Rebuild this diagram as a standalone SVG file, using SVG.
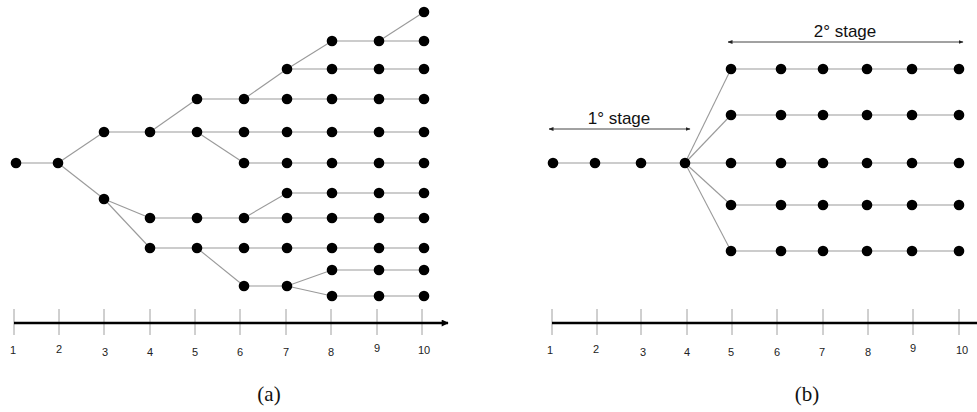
<svg xmlns="http://www.w3.org/2000/svg" width="977" height="412" viewBox="0 0 977 412">
<style>
.e{stroke:#9a9a9a;stroke-width:1.1;fill:none}
.n{fill:#000}
.t{stroke:#a0a0a0;stroke-width:1}
.ax{stroke:#000;stroke-width:2.6;fill:none}
.lb{font-family:"Liberation Sans",Arial,sans-serif;font-size:11px;fill:#222;text-anchor:middle}
.st{font-family:"Liberation Sans",Arial,sans-serif;font-size:17px;fill:#111;text-anchor:middle}
.cap{font-family:"Liberation Serif","Times New Roman",serif;font-size:21px;fill:#111;text-anchor:middle}
.sa{stroke:#444;stroke-width:1;fill:none;marker-start:url(#ah);marker-end:url(#ah)}
</style>
<defs>
<marker id="ah" viewBox="0 0 10 10" refX="9" refY="5" markerWidth="5" markerHeight="5" orient="auto-start-reverse" markerUnits="userSpaceOnUse"><path d="M0,1 L10,5 L0,9 Z" fill="#222"/></marker>
<marker id="axh" viewBox="0 0 10 10" refX="9" refY="5" markerWidth="8" markerHeight="7" orient="auto" markerUnits="userSpaceOnUse"><path d="M0,0 L10,5 L0,10 Z" fill="#000"/></marker>
</defs>

<g id="connectors">
<!-- left tree -->
<line class="e" x1="16" y1="163" x2="58" y2="163"/>
<line class="e" x1="58" y1="163" x2="104" y2="132"/>
<line class="e" x1="58" y1="163" x2="104" y2="199"/>
<line class="e" x1="104" y1="132" x2="150" y2="132"/>
<line class="e" x1="150" y1="132" x2="197" y2="99"/>
<line class="e" x1="150" y1="132" x2="424" y2="132"/>
<line class="e" x1="197" y1="99" x2="424" y2="99"/>
<line class="e" x1="244" y1="99" x2="287" y2="69"/>
<line class="e" x1="287" y1="69" x2="424" y2="69"/>
<line class="e" x1="287" y1="69" x2="332" y2="41"/>
<line class="e" x1="332" y1="41" x2="424" y2="41"/>
<line class="e" x1="379" y1="41" x2="424" y2="12"/>
<line class="e" x1="197" y1="132" x2="244" y2="163"/>
<line class="e" x1="244" y1="163" x2="424" y2="163"/>
<line class="e" x1="104" y1="199" x2="150" y2="218"/>
<line class="e" x1="104" y1="199" x2="150" y2="248"/>
<line class="e" x1="150" y1="218" x2="424" y2="218"/>
<line class="e" x1="244" y1="218" x2="287" y2="193"/>
<line class="e" x1="287" y1="193" x2="424" y2="193"/>
<line class="e" x1="150" y1="248" x2="424" y2="248"/>
<line class="e" x1="197" y1="248" x2="244" y2="286"/>
<line class="e" x1="244" y1="286" x2="287" y2="286"/>
<line class="e" x1="287" y1="286" x2="332" y2="270"/>
<line class="e" x1="287" y1="286" x2="332" y2="296"/>
<line class="e" x1="332" y1="270" x2="424" y2="270"/>
<line class="e" x1="332" y1="296" x2="424" y2="296"/>
<!-- right tree -->
<line class="e" x1="553" y1="163" x2="959" y2="163"/>
<line class="e" x1="685" y1="163" x2="731" y2="69"/>
<line class="e" x1="685" y1="163" x2="731" y2="115"/>
<line class="e" x1="685" y1="163" x2="731" y2="205"/>
<line class="e" x1="685" y1="163" x2="731" y2="251"/>
<line class="e" x1="731" y1="69" x2="959" y2="69"/>
<line class="e" x1="731" y1="115" x2="959" y2="115"/>
<line class="e" x1="731" y1="205" x2="959" y2="205"/>
<line class="e" x1="731" y1="251" x2="959" y2="251"/>
<!-- stage arrows -->
<line class="sa" x1="549" y1="129" x2="690" y2="129"/>
<line class="sa" x1="728" y1="42" x2="963" y2="42"/>
</g>

<g id="nodes-a">
<g id="a1-F"><circle class="n" cx="16" cy="163" r="5.3"/></g>
<g id="a2-F"><circle class="n" cx="58" cy="163" r="5.3"/></g>
<g id="a3-E"><circle class="n" cx="104" cy="132" r="5.3"/></g>
<g id="a3-M"><circle class="n" cx="104" cy="199" r="5.3"/></g>
<g id="a4-E"><circle class="n" cx="150" cy="132" r="5.3"/></g>
<g id="a4-H"><circle class="n" cx="150" cy="218" r="5.3"/></g>
<g id="a4-I"><circle class="n" cx="150" cy="248" r="5.3"/></g>
<g id="a5-D"><circle class="n" cx="197" cy="99" r="5.3"/></g>
<g id="a5-E"><circle class="n" cx="197" cy="132" r="5.3"/></g>
<g id="a5-H"><circle class="n" cx="197" cy="218" r="5.3"/></g>
<g id="a5-I"><circle class="n" cx="197" cy="248" r="5.3"/></g>
<g id="a6-D"><circle class="n" cx="244" cy="99" r="5.3"/></g>
<g id="a6-E"><circle class="n" cx="244" cy="132" r="5.3"/></g>
<g id="a6-F"><circle class="n" cx="244" cy="163" r="5.3"/></g>
<g id="a6-H"><circle class="n" cx="244" cy="218" r="5.3"/></g>
<g id="a6-I"><circle class="n" cx="244" cy="248" r="5.3"/></g>
<g id="a6-K"><circle class="n" cx="244" cy="286" r="5.3"/></g>
<g id="a7-C"><circle class="n" cx="287" cy="69" r="5.3"/></g>
<g id="a7-D"><circle class="n" cx="287" cy="99" r="5.3"/></g>
<g id="a7-E"><circle class="n" cx="287" cy="132" r="5.3"/></g>
<g id="a7-F"><circle class="n" cx="287" cy="163" r="5.3"/></g>
<g id="a7-G"><circle class="n" cx="287" cy="193" r="5.3"/></g>
<g id="a7-H"><circle class="n" cx="287" cy="218" r="5.3"/></g>
<g id="a7-I"><circle class="n" cx="287" cy="248" r="5.3"/></g>
<g id="a7-K"><circle class="n" cx="287" cy="286" r="5.3"/></g>
<g id="a8-B"><circle class="n" cx="332" cy="41" r="5.3"/></g>
<g id="a8-C"><circle class="n" cx="332" cy="69" r="5.3"/></g>
<g id="a8-D"><circle class="n" cx="332" cy="99" r="5.3"/></g>
<g id="a8-E"><circle class="n" cx="332" cy="132" r="5.3"/></g>
<g id="a8-F"><circle class="n" cx="332" cy="163" r="5.3"/></g>
<g id="a8-G"><circle class="n" cx="332" cy="193" r="5.3"/></g>
<g id="a8-H"><circle class="n" cx="332" cy="218" r="5.3"/></g>
<g id="a8-I"><circle class="n" cx="332" cy="248" r="5.3"/></g>
<g id="a8-J"><circle class="n" cx="332" cy="270" r="5.3"/></g>
<g id="a8-L"><circle class="n" cx="332" cy="296" r="5.3"/></g>
<g id="a9-B"><circle class="n" cx="379" cy="41" r="5.3"/></g>
<g id="a9-C"><circle class="n" cx="379" cy="69" r="5.3"/></g>
<g id="a9-D"><circle class="n" cx="379" cy="99" r="5.3"/></g>
<g id="a9-E"><circle class="n" cx="379" cy="132" r="5.3"/></g>
<g id="a9-F"><circle class="n" cx="379" cy="163" r="5.3"/></g>
<g id="a9-G"><circle class="n" cx="379" cy="193" r="5.3"/></g>
<g id="a9-H"><circle class="n" cx="379" cy="218" r="5.3"/></g>
<g id="a9-I"><circle class="n" cx="379" cy="248" r="5.3"/></g>
<g id="a9-J"><circle class="n" cx="379" cy="270" r="5.3"/></g>
<g id="a9-L"><circle class="n" cx="379" cy="296" r="5.3"/></g>
<g id="a10-A"><circle class="n" cx="424" cy="12" r="5.3"/></g>
<g id="a10-B"><circle class="n" cx="424" cy="41" r="5.3"/></g>
<g id="a10-C"><circle class="n" cx="424" cy="69" r="5.3"/></g>
<g id="a10-D"><circle class="n" cx="424" cy="99" r="5.3"/></g>
<g id="a10-E"><circle class="n" cx="424" cy="132" r="5.3"/></g>
<g id="a10-F"><circle class="n" cx="424" cy="163" r="5.3"/></g>
<g id="a10-G"><circle class="n" cx="424" cy="193" r="5.3"/></g>
<g id="a10-H"><circle class="n" cx="424" cy="218" r="5.3"/></g>
<g id="a10-I"><circle class="n" cx="424" cy="248" r="5.3"/></g>
<g id="a10-J"><circle class="n" cx="424" cy="270" r="5.3"/></g>
<g id="a10-L"><circle class="n" cx="424" cy="296" r="5.3"/></g>
</g>

<g id="nodes-b">
<g id="b1"><circle class="n" cx="553" cy="163" r="5.3"/></g>
<g id="b2"><circle class="n" cx="595" cy="163" r="5.3"/></g>
<g id="b3"><circle class="n" cx="641" cy="163" r="5.3"/></g>
<g id="b4"><circle class="n" cx="685" cy="163" r="5.3"/></g>
<g id="b5-1"><circle class="n" cx="731" cy="69" r="5.3"/></g>
<g id="b6-1"><circle class="n" cx="781" cy="69" r="5.3"/></g>
<g id="b7-1"><circle class="n" cx="823" cy="69" r="5.3"/></g>
<g id="b8-1"><circle class="n" cx="867" cy="69" r="5.3"/></g>
<g id="b9-1"><circle class="n" cx="912" cy="69" r="5.3"/></g>
<g id="b10-1"><circle class="n" cx="959" cy="69" r="5.3"/></g>
<g id="b5-2"><circle class="n" cx="731" cy="115" r="5.3"/></g>
<g id="b6-2"><circle class="n" cx="781" cy="115" r="5.3"/></g>
<g id="b7-2"><circle class="n" cx="823" cy="115" r="5.3"/></g>
<g id="b8-2"><circle class="n" cx="867" cy="115" r="5.3"/></g>
<g id="b9-2"><circle class="n" cx="912" cy="115" r="5.3"/></g>
<g id="b10-2"><circle class="n" cx="959" cy="115" r="5.3"/></g>
<g id="b5-3"><circle class="n" cx="731" cy="163" r="5.3"/></g>
<g id="b6-3"><circle class="n" cx="781" cy="163" r="5.3"/></g>
<g id="b7-3"><circle class="n" cx="823" cy="163" r="5.3"/></g>
<g id="b8-3"><circle class="n" cx="867" cy="163" r="5.3"/></g>
<g id="b9-3"><circle class="n" cx="912" cy="163" r="5.3"/></g>
<g id="b10-3"><circle class="n" cx="959" cy="163" r="5.3"/></g>
<g id="b5-4"><circle class="n" cx="731" cy="205" r="5.3"/></g>
<g id="b6-4"><circle class="n" cx="781" cy="205" r="5.3"/></g>
<g id="b7-4"><circle class="n" cx="823" cy="205" r="5.3"/></g>
<g id="b8-4"><circle class="n" cx="867" cy="205" r="5.3"/></g>
<g id="b9-4"><circle class="n" cx="912" cy="205" r="5.3"/></g>
<g id="b10-4"><circle class="n" cx="959" cy="205" r="5.3"/></g>
<g id="b5-5"><circle class="n" cx="731" cy="251" r="5.3"/></g>
<g id="b6-5"><circle class="n" cx="781" cy="251" r="5.3"/></g>
<g id="b7-5"><circle class="n" cx="823" cy="251" r="5.3"/></g>
<g id="b8-5"><circle class="n" cx="867" cy="251" r="5.3"/></g>
<g id="b9-5"><circle class="n" cx="912" cy="251" r="5.3"/></g>
<g id="b10-5"><circle class="n" cx="959" cy="251" r="5.3"/></g>
</g>

<g id="stage-labels">
<text class="st" x="619" y="124">1° stage</text>
<text class="st" x="845" y="37">2° stage</text>
</g>

<g id="axis-a">
<g class="t">
<line x1="14" y1="309" x2="14" y2="335"/>
<line x1="59" y1="309" x2="59" y2="335"/>
<line x1="104" y1="309" x2="104" y2="335"/>
<line x1="150" y1="309" x2="150" y2="335"/>
<line x1="195" y1="309" x2="195" y2="335"/>
<line x1="240" y1="309" x2="240" y2="335"/>
<line x1="286" y1="309" x2="286" y2="335"/>
<line x1="331" y1="309" x2="331" y2="335"/>
<line x1="377" y1="309" x2="377" y2="335"/>
<line x1="422" y1="309" x2="422" y2="335"/>
</g>
<line class="ax" x1="14" y1="323" x2="448" y2="323" marker-end="url(#axh)"/>
<text class="lb" x="13" y="354">1</text>
<text class="lb" x="59" y="353">2</text>
<text class="lb" x="105" y="356">3</text>
<text class="lb" x="150" y="356">4</text>
<text class="lb" x="195" y="356">5</text>
<text class="lb" x="240" y="356">6</text>
<text class="lb" x="286" y="356">7</text>
<text class="lb" x="331" y="356">8</text>
<text class="lb" x="377" y="352">9</text>
<text class="lb" x="424" y="354">10</text>
<text class="cap" x="269" y="401">(a)</text>
</g>

<g id="axis-b">
<g class="t">
<line x1="552" y1="309" x2="552" y2="335"/>
<line x1="597" y1="309" x2="597" y2="335"/>
<line x1="641" y1="309" x2="641" y2="335"/>
<line x1="687" y1="309" x2="687" y2="335"/>
<line x1="732" y1="309" x2="732" y2="335"/>
<line x1="777" y1="309" x2="777" y2="335"/>
<line x1="823" y1="309" x2="823" y2="335"/>
<line x1="868" y1="309" x2="868" y2="335"/>
<line x1="913" y1="309" x2="913" y2="335"/>
<line x1="959" y1="309" x2="959" y2="335"/>
</g>
<line class="ax" x1="552" y1="323" x2="977" y2="323"/>
<text class="lb" x="550" y="354">1</text>
<text class="lb" x="596" y="353">2</text>
<text class="lb" x="643" y="356">3</text>
<text class="lb" x="687" y="356">4</text>
<text class="lb" x="731" y="356">5</text>
<text class="lb" x="777" y="356">6</text>
<text class="lb" x="822" y="356">7</text>
<text class="lb" x="868" y="356">8</text>
<text class="lb" x="913" y="352">9</text>
<text class="lb" x="962" y="354">10</text>
<text class="cap" x="807" y="401">(b)</text>
</g>
</svg>
